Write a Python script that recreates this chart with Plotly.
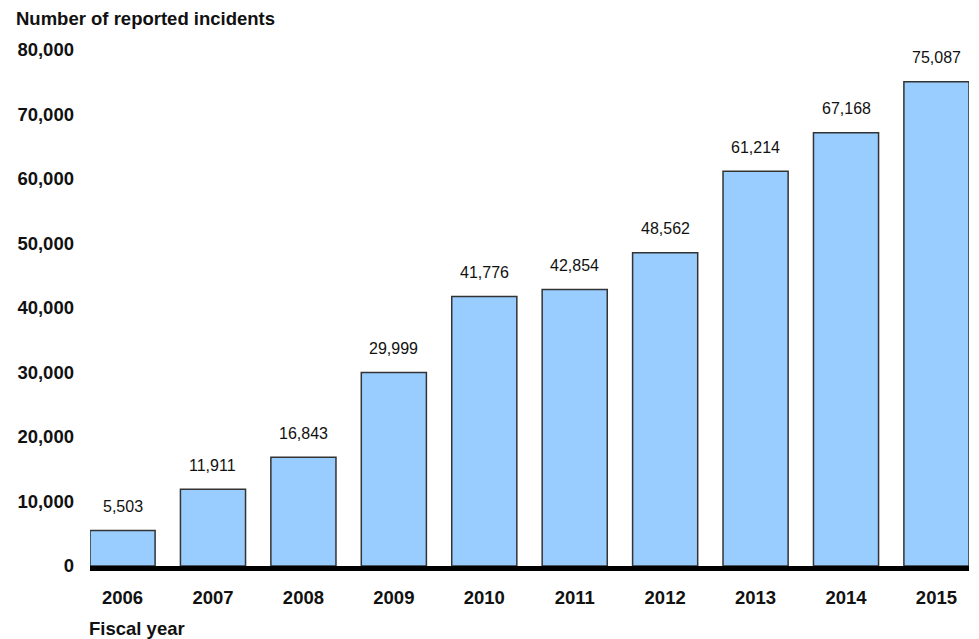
import plotly.graph_objects as go

years = ["2006", "2007", "2008", "2009", "2010", "2011", "2012", "2013", "2014", "2015"]
incidents = [5503, 11911, 16843, 29999, 41776, 42854, 48562, 61214, 67168, 75087]
y_ticks = [0, 10000, 20000, 30000, 40000, 50000, 60000, 70000, 80000]

FONT = "Liberation Sans, Arial, sans-serif"

fig = go.Figure()
fig.add_trace(go.Bar(
    x=years, y=incidents, width=0.72,
    marker=dict(color="#99CCFF", line=dict(color="#333333", width=1.5)),
    hoverinfo="x+y",
))

for i, v in enumerate(incidents):
    fig.add_annotation(x=i, y=v, text=f"{v:,}", showarrow=False,
                       yshift=24, yanchor="middle",
                       font=dict(family=FONT, size=16, color="#111111"))

fig.add_annotation(xref="paper", yref="paper", x=-0.087, y=1.0, yshift=32,
                   text="<b>Number of reported incidents</b>", showarrow=False,
                   xanchor="left", yanchor="middle",
                   font=dict(family=FONT, size=18.5, color="#111111"))
fig.add_annotation(xref="paper", yref="paper", x=-0.003, y=0.0, yshift=-62,
                   text="<b>Fiscal year</b>", showarrow=False,
                   xanchor="left", yanchor="middle",
                   font=dict(family=FONT, size=18.5, color="#111111"))

fig.update_layout(
    width=979, height=639,
    margin=dict(l=90, r=10, t=50, b=73),
    plot_bgcolor="white", paper_bgcolor="white",
    showlegend=False,
    xaxis=dict(
        type="category", range=[-0.36, 9.36],
        showline=True, linecolor="black", linewidth=5,
        showgrid=False, ticks="", ticklen=0, ticklabelstandoff=11,
        tickfont=dict(family=FONT, size=18.5, color="#111111", weight="bold"),
    ),
    yaxis=dict(
        range=[0, 80000], tickvals=y_ticks,
        tickformat=",d", showgrid=False, zeroline=False, showline=False,
        ticks="", ticklabelstandoff=15,
        tickfont=dict(family=FONT, size=18.5, color="#111111", weight="bold"),
    ),
)

fig.write_html("out.html", config={"displayModeBar": False},
               post_script="document.body.style.margin='0';")
